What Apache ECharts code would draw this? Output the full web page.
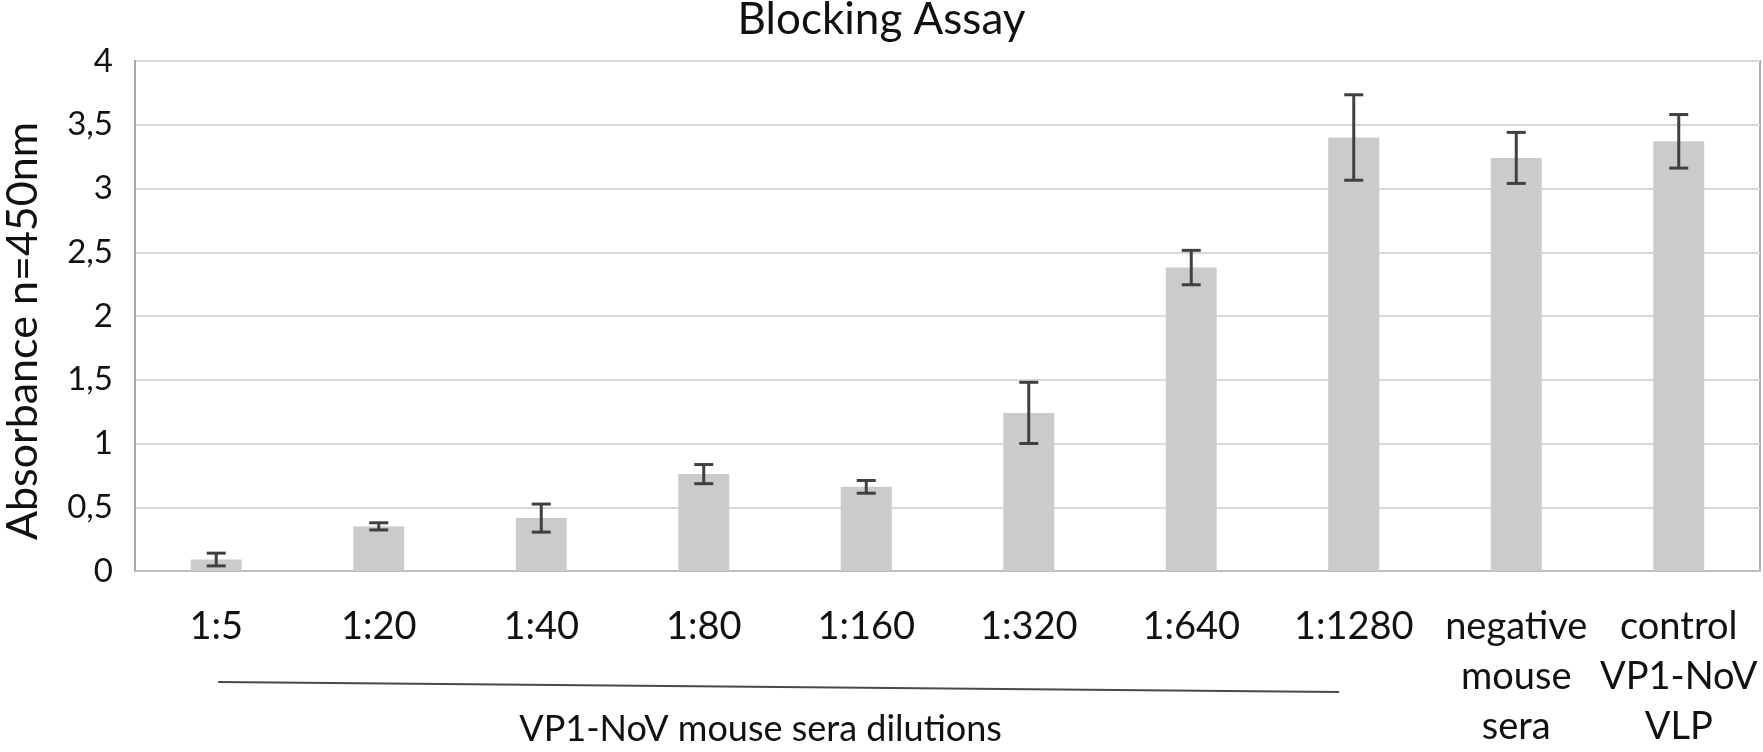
<!DOCTYPE html>
<html>
<head>
<meta charset="utf-8">
<script src="https://cdn.jsdelivr.net/npm/echarts@6/dist/echarts.min.js"></script>
<style>
html,body{margin:0;padding:0;background:#ffffff;}
#chart{width:1763px;height:752px;}
</style>
</head>
<body>
<div id="chart"></div>
<script>
// ---- data ----
const titleText = 'Blocking Assay';
const yAxisTitle = 'Absorbance n=450nm';
const categories = ['1:5', '1:20', '1:40', '1:80', '1:160', '1:320', '1:640', '1:1280', 'negative\nmouse\nsera', 'control\nVP1-NoV\nVLP'];
const means  = [0.09, 0.35, 0.415, 0.76, 0.66, 1.24, 2.38, 3.40, 3.24, 3.37];
const errors = [0.05, 0.028, 0.11, 0.075, 0.05, 0.24, 0.135, 0.335, 0.20, 0.21];
const yMin = 0, yMax = 4, yStep = 0.5;
const groupLabel = 'VP1-NoV mouse sera dilutions';
const groupFirst = 0, groupLast = 7; // categories spanned by the bracket line

const FONT = 'Lato';
const chart = echarts.init(document.getElementById('chart'), null, {renderer: 'canvas'});

const errData = categories.map((c, i) => [i, means[i], errors[i]]);

chart.setOption({
  animation: false,
  backgroundColor: '#ffffff',
  title: {
    text: titleText,
    left: 'center',
    top: -2,
    padding: [0, 8, 0, 0],
    textStyle: {fontFamily: FONT, fontSize: 44, fontWeight: 'normal', color: '#111', lineHeight: 44}
  },
  grid: {
    left: 135, right: 3, top: 61, bottom: 171,
    show: true, borderColor: '#ababab', borderWidth: 2, containLabel: false
  },
  xAxis: {
    type: 'category',
    data: categories,
    axisTick: {show: false},
    axisLine: {show: true, lineStyle: {color: '#bdbdbd', width: 2}},
    axisLabel: {
      interval: 0, margin: 31, fontFamily: FONT, fontSize: 38, lineHeight: 50, color: '#111'
    },
    splitLine: {show: false}
  },
  yAxis: {
    type: 'value',
    min: yMin, max: yMax, interval: yStep,
    axisLine: {show: true, lineStyle: {color: '#a8a8a8', width: 2}},
    axisTick: {show: false},
    axisLabel: {
      margin: 22, fontFamily: FONT, fontSize: 33, color: '#111',
      formatter: v => String(v).replace('.', ',')
    },
    splitLine: {show: true, lineStyle: {color: '#d9d9d9', width: 2}}
  },
  series: [
    {
      type: 'bar',
      data: means,
      barWidth: 51,
      itemStyle: {color: '#cbcbcb'},
      z: 2
    },
    {
      type: 'custom',
      data: errData,
      z: 3,
      renderItem: function (params, api) {
        const i = api.value(0), m = api.value(1), e = api.value(2);
        const top = api.coord([i, m + e]);
        const bot = api.coord([i, m - e]);
        const w = 9.5;
        const st = {stroke: '#404040', lineWidth: 3};
        return {
          type: 'group',
          children: [
            {type: 'line', shape: {x1: top[0], y1: top[1], x2: bot[0], y2: bot[1]}, style: st},
            {type: 'line', shape: {x1: top[0] - w, y1: top[1], x2: top[0] + w, y2: top[1]}, style: st},
            {type: 'line', shape: {x1: bot[0] - w, y1: bot[1], x2: bot[0] + w, y2: bot[1]}, style: st}
          ]
        };
      }
    }
  ]
});

// annotations positioned from the axes
const px0 = chart.convertToPixel({xAxisIndex: 0}, groupFirst);
const px1 = chart.convertToPixel({xAxisIndex: 0}, groupLast);
const bw = chart.convertToPixel({xAxisIndex: 0}, 1) - chart.convertToPixel({xAxisIndex: 0}, 0);
const y0 = chart.convertToPixel({yAxisIndex: 0}, 0);
const yMid = chart.convertToPixel({yAxisIndex: 0}, (yMin + yMax) / 2);

chart.setOption({
  graphic: [
    {
      type: 'text',
      x: 23, y: yMid + 15,
      rotation: Math.PI / 2,
      style: {
        text: yAxisTitle, fontFamily: FONT, fontSize: 43, fill: '#111',
        align: 'center', verticalAlign: 'middle'
      }
    },
    {
      type: 'line',
      shape: {x1: px0 + 2, y1: y0 + 111, x2: px1 - 0.09 * bw, y2: y0 + 121},
      style: {stroke: '#4a4a4a', lineWidth: 2}
    },
    {
      type: 'text',
      x: (px0 + px1) / 2 - 0.15 * bw, y: y0 + 158,
      style: {
        text: groupLabel, fontFamily: FONT, fontSize: 36, fill: '#111',
        align: 'center', verticalAlign: 'middle'
      }
    }
  ]
});
</script>
</body>
</html>
